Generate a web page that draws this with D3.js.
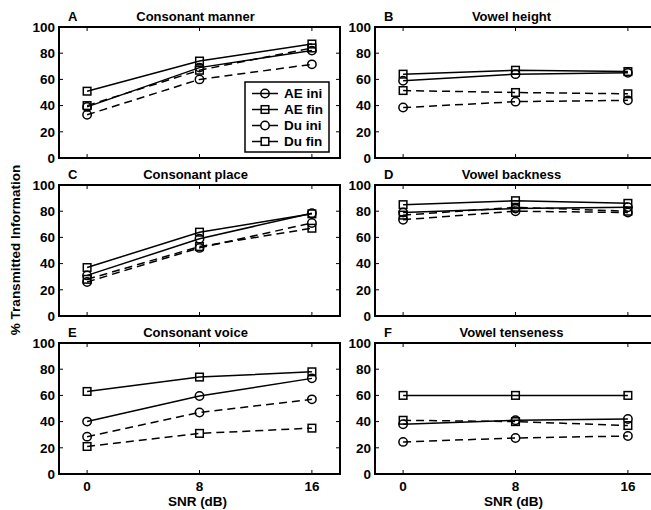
<!DOCTYPE html>
<html>
<head>
<meta charset="utf-8">
<script src="https://cdn.jsdelivr.net/npm/d3@7"></script>
<style>
  body { margin: 0; background: #fff; }
  svg text { font-family: "Liberation Sans", Arial, sans-serif; font-weight: bold; fill: #000; }
</style>
</head>
<body>
<svg id="chart" width="651" height="510"></svg>
<script>
var SNR = [0, 8, 16];
var X_TICKS = [0, 8, 16];
var Y_TICKS = [0, 20, 40, 60, 80, 100];
var LETTERS = ['A', 'B', 'C', 'D', 'E', 'F'];
var TITLES = ['Consonant manner', 'Vowel height', 'Consonant place',
  'Vowel backness', 'Consonant voice', 'Vowel tenseness'];
var SERIES = ['AE ini', 'AE fin', 'Du ini', 'Du fin'];

// one row per panel, values at SNR 0, 8, 16
var AE_INI = [[39, 69, 82], [59, 64, 65], [31, 59, 78.5], [79, 82, 83], [40, 59.5, 73], [38, 41, 42]];
var AE_FIN = [[51, 74, 87], [64, 67, 66], [37, 64, 78], [85, 88, 86], [63, 74, 78], [60, 60, 60]];
var DU_INI = [[33, 60, 71.5], [38.5, 43, 44], [26, 52, 71], [73.5, 80, 79], [28.5, 47, 57], [24.5, 27.5, 29]];
var DU_FIN = [[40, 67, 84], [51.5, 50, 49], [28, 53, 67], [77, 83, 80], [21, 31, 35], [41, 40, 37]];

var svg = d3.select('#chart');
var colLeft = [59, 375];
var rowTop = [27, 185, 343];
var W = 281, H = 131;

var styles = [
  { data: AE_INI, marker: 'circle', dash: null },
  { data: AE_FIN, marker: 'square', dash: null },
  { data: DU_INI, marker: 'circle', dash: '8,5' },
  { data: DU_FIN, marker: 'square', dash: '8,5' }
];

function drawMarker(g, type, x, y) {
  if (type === 'circle') {
    g.append('circle').attr('cx', x).attr('cy', y).attr('r', 4.2)
      .attr('fill', 'none').attr('stroke', '#000').attr('stroke-width', 1.5);
  } else {
    g.append('rect').attr('x', x - 3.8).attr('y', y - 3.8)
      .attr('width', 7.6).attr('height', 7.6)
      .attr('fill', 'none').attr('stroke', '#000').attr('stroke-width', 1.5);
  }
}

TITLES.forEach(function(title, p) {
  var left = colLeft[p % 2], top = rowTop[Math.floor(p / 2)];
  var x = d3.scaleLinear().domain([-2, 18]).range([left, left + W]);
  var y = d3.scaleLinear().domain([0, 100]).range([top + H, top]);
  var g = svg.append('g');

  // inward ticks on all four sides
  Y_TICKS.forEach(function(t) {
    if (t === 0 || t === 100) return;
    g.append('line').attr('x1', left).attr('x2', left + 4).attr('y1', y(t)).attr('y2', y(t))
      .attr('stroke', '#000').attr('stroke-width', 1);
    g.append('line').attr('x1', left + W).attr('x2', left + W - 4).attr('y1', y(t)).attr('y2', y(t))
      .attr('stroke', '#000').attr('stroke-width', 1);
  });
  X_TICKS.forEach(function(t) {
    g.append('line').attr('x1', x(t)).attr('x2', x(t)).attr('y1', top + H).attr('y2', top + H - 4)
      .attr('stroke', '#000').attr('stroke-width', 1);
    g.append('line').attr('x1', x(t)).attr('x2', x(t)).attr('y1', top).attr('y2', top + 4)
      .attr('stroke', '#000').attr('stroke-width', 1);
  });

  g.append('rect').attr('x', left).attr('y', top).attr('width', W).attr('height', H)
    .attr('fill', 'none').attr('stroke', '#000').attr('stroke-width', 2);

  g.selectAll('.ytl').data(Y_TICKS).enter().append('text')
    .attr('x', left - 4).attr('y', function(d) { return y(d); })
    .attr('dy', '0.36em').attr('text-anchor', 'end')
    .style('font-size', '13.5px')
    .text(function(d) { return d; });

  if (p >= 4) {
    g.selectAll('.xtl').data(X_TICKS).enter().append('text')
      .attr('x', function(d) { return x(d); }).attr('y', top + H + 17)
      .attr('text-anchor', 'middle').style('font-size', '13.5px')
      .text(function(d) { return d; });
    g.append('text').attr('x', left + W / 2 - 2).attr('y', top + H + 32)
      .attr('text-anchor', 'middle').style('font-size', '13.5px').text('SNR (dB)');
  }

  g.append('text').attr('x', left + 9).attr('y', top - 6).style('font-size', '13px').text(LETTERS[p]);
  g.append('text').attr('x', left + W / 2 - 4).attr('y', top - 6)
    .attr('text-anchor', 'middle').style('font-size', '13px').text(title);

  var line = d3.line().x(function(d, i) { return x(SNR[i]); }).y(function(d) { return y(d); });
  styles.forEach(function(s) {
    var vals = s.data[p];
    g.append('path').attr('d', line(vals)).attr('fill', 'none')
      .attr('stroke', '#000').attr('stroke-width', 1.5)
      .attr('stroke-dasharray', s.dash);
    vals.forEach(function(v, i) { drawMarker(g, s.marker, x(SNR[i]), y(v)); });
  });

  // legend in panel A
  if (p === 0) {
    var lg = svg.append('g');
    lg.append('rect').attr('x', 245).attr('y', 82).attr('width', 84).attr('height', 70)
      .attr('fill', '#fff').attr('stroke', '#000').attr('stroke-width', 1.5);
    SERIES.forEach(function(name, i) {
      var ly = 93.5 + i * 16;
      lg.append('line').attr('x1', 252).attr('x2', 278).attr('y1', ly).attr('y2', ly)
        .attr('stroke', '#000').attr('stroke-width', 1.5)
        .attr('stroke-dasharray', styles[i].dash ? '9,8' : null);
      drawMarker(lg, styles[i].marker, 265, ly);
      lg.append('text').attr('x', 284).attr('y', ly).attr('dy', '0.36em')
        .style('font-size', '13.5px').text(name);
    });
  }
});

svg.append('text')
  .attr('transform', 'translate(20,250) rotate(-90)')
  .attr('text-anchor', 'middle').style('font-size', '13.5px')
  .text('% Transmitted Information');
</script>
</body>
</html>
